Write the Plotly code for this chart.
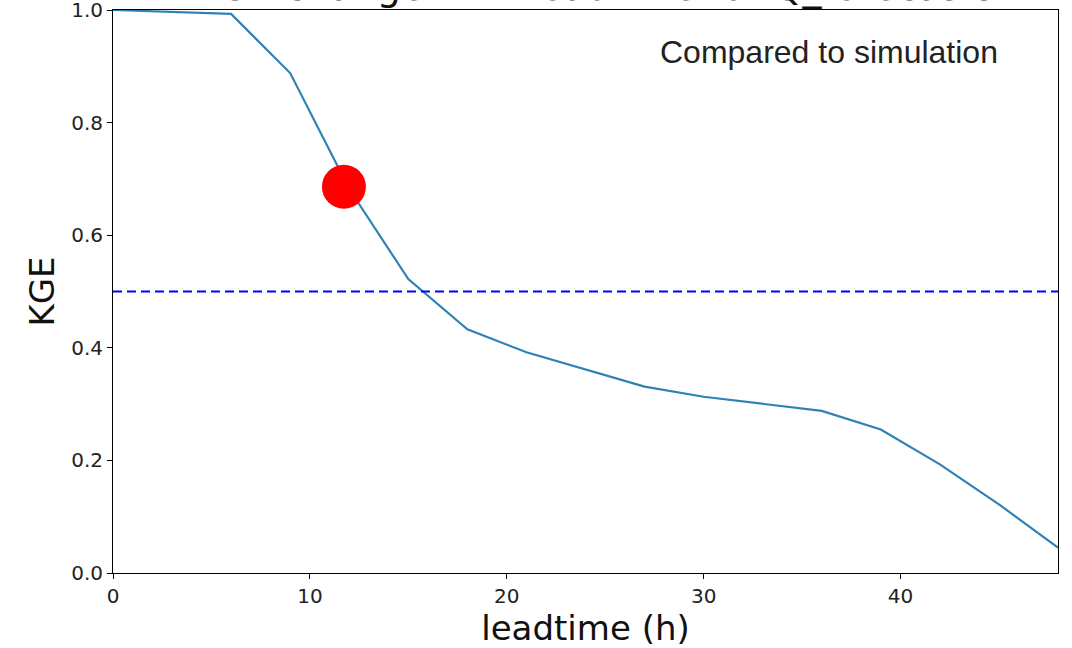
import plotly.graph_objects as go

leadtime = [0, 3, 6, 9, 12, 15, 18, 21, 24, 27, 30, 33, 36, 39, 42, 45, 48]
kge = [1.0, 0.997, 0.993, 0.888, 0.682, 0.522, 0.433, 0.392, 0.362, 0.331,
       0.313, 0.301, 0.288, 0.255, 0.193, 0.122, 0.045]
threshold = 0.5
marker_x = [11.73]
marker_y = [0.686]
xticks = [0, 10, 20, 30, 40]
yticks = [0.0, 0.2, 0.4, 0.6, 0.8, 1.0]
title_text = "KGE change with leadtime for Q_forecasts"
note_text = "Compared to simulation"

fig = go.Figure()
fig.add_trace(go.Scatter(x=leadtime, y=kge, mode="lines",
                         line=dict(color="#2f82b6", width=2.2), showlegend=False))
fig.add_trace(go.Scatter(x=[leadtime[0], leadtime[-1]], y=[threshold, threshold],
                         mode="lines", line=dict(color="#0000ff", width=2, dash="9px,5px"),
                         showlegend=False))
fig.add_trace(go.Scatter(x=marker_x, y=marker_y, mode="markers",
                         marker=dict(color="#ff0000", size=44, line=dict(width=0)),
                         showlegend=False))

axis_common = dict(showgrid=False, zeroline=False, showline=True, linecolor="black",
                   linewidth=1, mirror=True, ticks="outside", ticklen=5, tickwidth=1,
                   tickcolor="black", automargin=False, ticklabeloverflow="allow",
                   tickfont=dict(family="DejaVu Sans", size=20, color="#222222"))

fig.update_xaxes(range=[0, 48], tickvals=xticks, ticktext=[str(v) for v in xticks],
                 title=dict(text="leadtime (h)", font=dict(family="DejaVu Sans", size=34, color="#111111"),
                            standoff=4),
                 **axis_common)
fig.update_yaxes(range=[0, 1], tickvals=yticks, ticktext=[f"{v:.1f}" for v in yticks],
                 title=dict(text="KGE", font=dict(family="DejaVu Sans", size=34, color="#111111"),
                            standoff=6),
                 **axis_common)

fig.add_annotation(text=note_text, xref="paper", yref="paper", x=0.939, y=0.925,
                   xanchor="right", yanchor="middle", showarrow=False,
                   font=dict(family="Liberation Sans", size=32, color="#222222"))
fig.add_annotation(text=title_text, xref="paper", yref="paper", x=0.51, y=1.0,
                   xanchor="center", yanchor="bottom", yshift=-1, showarrow=False,
                   font=dict(family="DejaVu Sans", size=38, color="#111111"))

fig.update_layout(width=1072, height=648,
                  margin=dict(l=113, r=14, t=10, b=75, autoexpand=False),
                  plot_bgcolor="white", paper_bgcolor="white")

fig.write_html("out.html", config={"displayModeBar": False},
               post_script="document.body.style.margin='0';document.body.style.overflow='hidden';")
